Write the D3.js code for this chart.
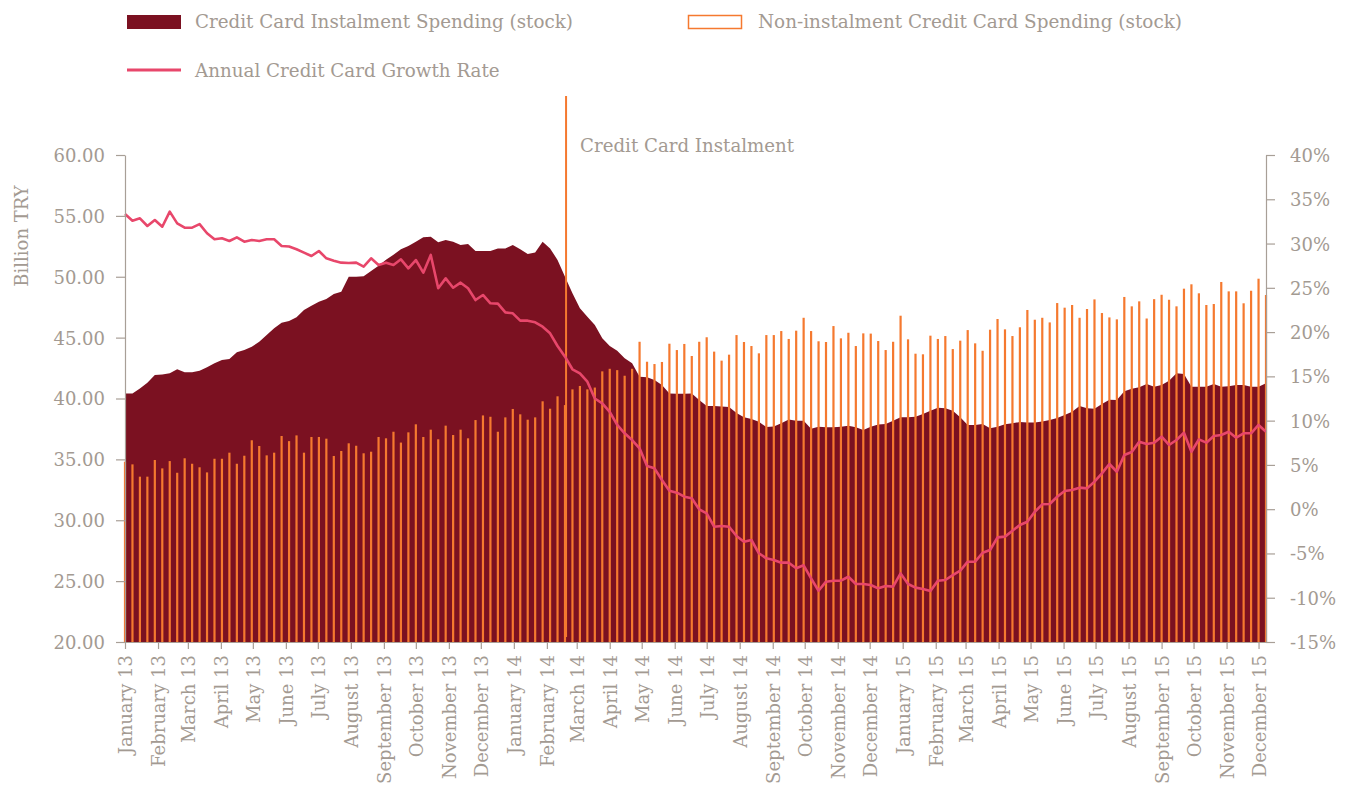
<!DOCTYPE html>
<html>
<head>
<meta charset="utf-8">
<script src="https://cdn.jsdelivr.net/npm/d3@7.9.0/dist/d3.min.js"></script>
<style>
  body { margin: 0; background: #fff; }
  svg text { font-family: "DejaVu Serif", serif; fill: #a39a92; }
</style>
</head>
<body>
<svg id="chart" width="1347" height="785"></svg>
<script>
// weekly observations, first week and count
const startDate = new Date(2013, 0, 1);
const weekCount = 154;

// Credit card instalment spending, stock (billion TRY)
const instalment = [
  40.42, 40.42, 40.83, 41.29, 41.93, 41.98, 42.07, 42.40, 42.15, 42.15,
  42.28, 42.56, 42.89, 43.16, 43.24, 43.79, 43.98, 44.25, 44.66, 45.21,
  45.76, 46.22, 46.36, 46.67, 47.27, 47.62, 47.95, 48.17, 48.58, 48.77,
  50.00, 50.00, 50.04, 50.47, 50.90, 51.40, 51.80, 52.25, 52.52, 52.88,
  53.24, 53.29, 52.83, 53.02, 52.88, 52.61, 52.69, 52.11, 52.11, 52.11,
  52.33, 52.33, 52.61, 52.25, 51.87, 52.00, 52.88, 52.33, 51.38, 50.00,
  48.64, 47.41, 46.72, 46.04, 44.94, 44.31, 43.93, 43.30, 42.89, 41.79,
  41.74, 41.52, 41.11, 40.42, 40.40, 40.40, 40.42, 39.87, 39.38, 39.38,
  39.34, 39.30, 38.80, 38.47, 38.31, 38.10, 37.65, 37.70, 37.96, 38.28,
  38.18, 38.18, 37.52, 37.68, 37.64, 37.64, 37.68, 37.76, 37.64, 37.41,
  37.68, 37.86, 37.90, 38.18, 38.45, 38.45, 38.50, 38.72, 39.00, 39.24,
  39.20, 39.00, 38.45, 37.82, 37.82, 37.90, 37.55, 37.68, 37.88, 37.96,
  38.07, 38.02, 38.02, 38.12, 38.23, 38.39, 38.64, 38.91, 39.38, 39.20,
  39.15, 39.55, 39.90, 39.88, 40.60, 40.80, 40.92, 41.19, 40.97, 41.11,
  41.46, 42.07, 42.01, 40.97, 40.97, 40.97, 41.19, 40.97, 41.00, 41.11,
  41.11, 40.97, 40.97, 41.25
];

// Non-instalment credit card spending, stock (billion TRY)
const nonInstalment = [
  34.81, 34.59, 33.58, 33.58, 34.95, 34.26, 34.86, 33.90, 35.09, 34.64,
  34.35, 33.93, 35.05, 35.05, 35.55, 34.64, 35.30, 36.57, 36.10, 35.33,
  35.55, 36.92, 36.50, 36.97, 35.55, 36.84, 36.84, 36.70, 35.28, 35.69,
  36.32, 36.12, 35.50, 35.63, 36.84, 36.73, 37.27, 36.38, 37.22, 37.88,
  36.84, 37.44, 36.65, 37.77, 37.00, 37.44, 36.73, 38.23, 38.61, 38.50,
  37.27, 38.45, 39.14, 38.70, 38.26, 38.45, 39.77, 39.16, 40.18, 39.46,
  40.75, 41.03, 40.75, 40.90, 42.23, 42.44, 42.33, 41.87, 42.44, 44.66,
  43.02, 42.83, 43.00, 44.50, 43.98, 44.48, 43.49, 44.66, 45.03, 43.85,
  43.11, 43.60, 45.21, 44.64, 44.31, 43.71, 45.21, 45.21, 45.54, 44.89,
  45.57, 46.63, 45.54, 44.70, 44.64, 45.95, 44.94, 45.40, 44.31, 45.35,
  45.33, 44.72, 43.98, 44.66, 46.80, 44.86, 43.68, 43.63, 45.16, 44.89,
  45.13, 44.06, 44.75, 45.62, 44.53, 43.92, 45.65, 46.53, 45.68, 45.13,
  45.85, 47.27, 46.47, 46.63, 46.25, 47.84, 47.46, 47.68, 46.63, 47.35,
  48.14, 47.02, 46.66, 46.50, 48.34, 47.57, 47.98, 46.57, 48.16, 48.52,
  48.11, 47.57, 49.02, 49.38, 48.64, 47.68, 47.76, 49.57, 48.80, 48.80,
  47.82, 48.85, 49.84, 48.50
];

// Annual credit card growth rate (%)
const growth = [
  33.34, 32.58, 32.85, 31.98, 32.66, 31.90, 33.60, 32.28, 31.79, 31.80,
  32.20, 31.16, 30.48, 30.59, 30.29, 30.70, 30.21, 30.40, 30.29, 30.48,
  30.48, 29.72, 29.66, 29.35, 28.97, 28.59, 29.16, 28.33, 28.07, 27.84,
  27.80, 27.84, 27.39, 28.33, 27.58, 27.84, 27.58, 28.22, 27.20, 28.14,
  26.71, 28.71, 24.95, 26.07, 25.01, 25.58, 24.95, 23.62, 24.19, 23.25,
  23.22, 22.23, 22.12, 21.29, 21.29, 21.10, 20.61, 19.86, 18.43, 17.22,
  15.80, 15.34, 14.40, 12.50, 11.96, 11.00, 9.51, 8.57, 7.81, 6.87,
  4.88, 4.61, 3.29, 2.09, 1.86, 1.41, 1.23, -0.02, -0.47, -1.98,
  -1.90, -1.98, -3.03, -3.67, -3.48, -4.98, -5.55, -5.74, -6.04, -6.04,
  -6.68, -6.34, -7.81, -9.21, -8.19, -8.08, -8.08, -7.63, -8.45, -8.45,
  -8.56, -8.94, -8.68, -8.75, -7.25, -8.45, -8.86, -9.01, -9.24, -8.08,
  -8.00, -7.44, -6.95, -5.93, -5.93, -4.92, -4.61, -3.18, -3.10, -2.43,
  -1.79, -1.42, -0.29, 0.55, 0.59, 1.41, 2.05, 2.16, 2.43, 2.35,
  3.10, 4.05, 5.10, 4.23, 6.12, 6.45, 7.62, 7.36, 7.51, 8.19,
  7.25, 7.81, 8.64, 6.49, 7.89, 7.51, 8.26, 8.38, 8.75, 8.07,
  8.57, 8.57, 9.51, 8.75
];

const leftTicks = [20, 25, 30, 35, 40, 45, 50, 55, 60];
const rightTicks = [-15, -10, -5, 0, 5, 10, 15, 20, 25, 30, 35, 40];
const eventDate = new Date(2014, 1, 19);
const eventLabel = 'Credit Card Instalment';

const seriesNames = [
  'Credit Card Instalment Spending (stock)',
  'Non-instalment Credit Card Spending (stock)',
  'Annual Credit Card Growth Rate'
];

const dates = d3.range(weekCount).map((i) => d3.timeDay.offset(startDate, i * 7));
const data = dates.map((d, i) => ({
  date: d,
  inst: instalment[i],
  non: nonInstalment[i],
  rate: growth[i]
}));

const colors = {
  area: '#7b1121',
  bar: '#f5792f',
  line: '#e8476b',
  axis: '#a89f97'
};

const svg = d3.select('#chart');
const margin = { left: 125, right: 1266, top: 155, bottom: 642 };

let x = d3.scaleTime()
  .domain([dates[0], dates[dates.length - 1]])
  .range([margin.left, margin.right]);
let yL = d3.scaleLinear().domain([20, 60]).range([margin.bottom, margin.top]);
let yR = d3.scaleLinear().domain([-15, 40]).range([margin.bottom, margin.top]);

// area
let area = d3.area()
  .x((d) => x(d.date))
  .y0(yL(20))
  .y1((d) => yL(d.inst));

svg.append('path')
  .datum(data)
  .attr('d', area)
  .attr('fill', colors.area);

// bars
const barW = 2.2;
svg.append('g')
  .selectAll('rect')
  .data(data)
  .join('rect')
  .attr('x', (d) => x(d.date) - barW / 2)
  .attr('width', barW)
  .attr('y', (d) => yL(d.non))
  .attr('height', (d) => yL(20) - yL(d.non))
  .attr('fill', colors.bar);

// event marker
svg.append('line')
  .attr('x1', x(eventDate)).attr('x2', x(eventDate))
  .attr('y1', 96).attr('y2', 637)
  .attr('stroke', colors.bar)
  .attr('stroke-width', 2);

svg.append('text')
  .attr('x', x(eventDate) + 14)
  .attr('y', 152)
  .attr('font-size', 18.2)
  .text(eventLabel);

// growth line
let line = d3.line()
  .x((d) => x(d.date))
  .y((d) => yR(d.rate));

svg.append('path')
  .datum(data)
  .attr('d', line)
  .attr('fill', 'none')
  .attr('stroke', colors.line)
  .attr('stroke-width', 2.6)
  .attr('stroke-linejoin', 'round');

// axes
function styleAxis(g) {
  g.selectAll('path, line').attr('stroke', colors.axis).attr('stroke-width', 1.2);
  g.selectAll('text').attr('font-size', 18).attr('fill', '#a39a92');
}

svg.append('g')
  .attr('transform', `translate(${margin.left},0)`)
  .call(d3.axisLeft(yL).tickValues(leftTicks).tickFormat(d3.format('.2f'))
    .tickSize(9).tickSizeOuter(0).tickPadding(11))
  .call(styleAxis)
  .selectAll('text').attr('dy', '0.36em');

svg.append('g')
  .attr('transform', `translate(${margin.right},0)`)
  .call(d3.axisRight(yR).tickValues(rightTicks).tickFormat((d) => d + '%')
    .tickSize(9).tickSizeOuter(0).tickPadding(15))
  .call(styleAxis)
  .selectAll('text').attr('dy', '0.36em');

let xAxis = svg.append('g')
  .attr('transform', `translate(0,${margin.bottom})`)
  .call(d3.axisBottom(x).ticks(d3.timeMonth.every(1)).tickFormat(d3.timeFormat('%B %y'))
    .tickSize(7).tickSizeOuter(0))
  .call(styleAxis);

xAxis.selectAll('text')
  .attr('text-anchor', 'end')
  .attr('transform', 'rotate(-90)')
  .attr('x', -13)
  .attr('y', 0)
  .attr('dy', '0.36em');

// y axis title
svg.append('text')
  .attr('transform', 'translate(28,236) rotate(-90)')
  .attr('text-anchor', 'middle')
  .attr('font-size', 18)
  .text('Billion TRY');

// legend
let legend = svg.append('g');

legend.append('rect')
  .attr('x', 127).attr('y', 15).attr('width', 54).attr('height', 14)
  .attr('fill', colors.area);
legend.append('text')
  .attr('x', 195).attr('y', 28).attr('font-size', 18.3)
  .text(seriesNames[0]);

legend.append('rect')
  .attr('x', 688.5).attr('y', 15.5).attr('width', 53).attr('height', 13)
  .attr('fill', 'none').attr('stroke', colors.bar).attr('stroke-width', 1.5);
legend.append('text')
  .attr('x', 758).attr('y', 28).attr('font-size', 18.4)
  .text(seriesNames[1]);

legend.append('line')
  .attr('x1', 127).attr('x2', 181).attr('y1', 70).attr('y2', 70)
  .attr('stroke', colors.line).attr('stroke-width', 3);
legend.append('text')
  .attr('x', 195).attr('y', 77).attr('font-size', 18.3)
  .text(seriesNames[2]);
</script>
</body>
</html>
